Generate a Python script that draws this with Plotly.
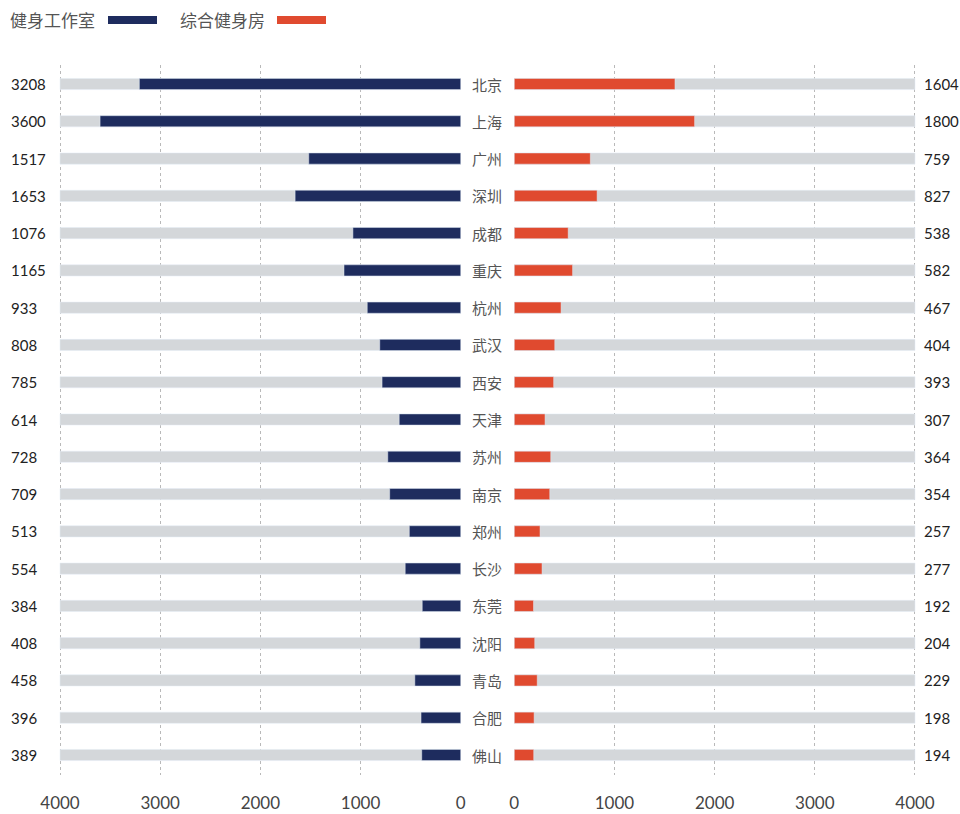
import plotly.graph_objects as go

cities = ["北京", "上海", "广州", "深圳", "成都", "重庆", "杭州", "武汉", "西安", "天津",
          "苏州", "南京", "郑州", "长沙", "东莞", "沈阳", "青岛", "合肥", "佛山"]
studio = [3208, 3600, 1517, 1653, 1076, 1165, 933, 808, 785, 614,
          728, 709, 513, 554, 384, 408, 458, 396, 389]
gym = [1604, 1800, 759, 827, 538, 582, 467, 404, 393, 307,
       364, 354, 257, 277, 192, 204, 229, 198, 194]
axis_max = 4000
tick_vals = [0, 1000, 2000, 3000, 4000]
tick_text = ["0", "1000", "2000", "3000", "4000"]
series_names = ["健身工作室", "综合健身房"]

NAVY = "#1e2c5e"
ORANGE = "#e04a2f"
GREY = "#d4d7da"
W, H = 960, 814
FONT_NUM = "Lato, Noto Sans, sans-serif"
FONT_CJK = "Noto Sans CJK SC, sans-serif"

fig = go.Figure()
bg = [axis_max] * len(cities)
bw = 0.3
fig.add_trace(go.Bar(y=cities, x=bg, orientation="h", marker_color=GREY, width=bw,
                     xaxis="x", yaxis="y", showlegend=False, hoverinfo="skip"))
fig.add_trace(go.Bar(y=cities, x=studio, orientation="h", marker_color=NAVY, width=bw,
                     xaxis="x", yaxis="y", name=series_names[0], showlegend=False))
fig.add_trace(go.Bar(y=cities, x=bg, orientation="h", marker_color=GREY, width=bw,
                     xaxis="x2", yaxis="y", showlegend=False, hoverinfo="skip"))
fig.add_trace(go.Bar(y=cities, x=gym, orientation="h", marker_color=ORANGE, width=bw,
                     xaxis="x2", yaxis="y", name=series_names[1], showlegend=False))

n = len(cities)
top_px, bot_px = 65, 775
first_px, last_px = 84, 755
step = (last_px - first_px) / (n - 1)
r_top = (top_px - first_px) / step
r_bot = (n - 1) + (bot_px - last_px) / step

pad = 3  # tiny range padding so edge gridlines are drawn
axis_common = dict(
    tickvals=tick_vals, ticktext=tick_text, showgrid=True, gridcolor="#b9b9b9",
    griddash="dot", gridwidth=1, zeroline=False, showline=False,
    ticks="outside", ticklen=13, tickcolor="rgba(0,0,0,0)",
    tickfont=dict(family=FONT_NUM, size=17, color="#444"), anchor="y",
    automargin=False,
)
fig.update_layout(
    width=W, height=H, margin=dict(l=0, r=0, t=0, b=0, autoexpand=False),
    paper_bgcolor="white", plot_bgcolor="white", barmode="overlay",
    xaxis=dict(domain=[57 / W, 461 / W], range=[axis_max + 10 * pad, -pad], **axis_common),
    xaxis2=dict(domain=[514 / W, 918 / W], range=[-pad, axis_max + 10 * pad], **axis_common),
    yaxis=dict(domain=[(H - bot_px) / H, (H - top_px) / H], type="category",
               categoryorder="array", categoryarray=cities,
               range=[r_bot, r_top], showticklabels=False, showgrid=False,
               zeroline=False, showline=False, automargin=False),
    showlegend=False,
)

for c, s, g in zip(cities, studio, gym):
    fig.add_annotation(x=9 / W, xref="paper", y=c, yref="y", text=str(s), showarrow=False,
                       xanchor="left", font=dict(family=FONT_NUM, size=15, color="#222"))
    fig.add_annotation(x=487 / W, xref="paper", y=c, yref="y", text=c, showarrow=False,
                       xanchor="center", font=dict(family=FONT_CJK, size=15, color="#555"))
    fig.add_annotation(x=922 / W, xref="paper", y=c, yref="y", text=str(g), showarrow=False,
                       xanchor="left", font=dict(family=FONT_NUM, size=15, color="#222"))

# legend
leg = [(series_names[0], 8, 108, NAVY), (series_names[1], 178, 277, ORANGE)]
for name, tx, lx, col in leg:
    fig.add_annotation(x=tx / W, xref="paper", y=1 - 20 / H, yref="paper", text=name,
                       showarrow=False, xanchor="left", yanchor="middle",
                       font=dict(family=FONT_CJK, size=17, color="#555"))
    fig.add_shape(type="rect", xref="paper", yref="paper", x0=lx / W, x1=(lx + 49) / W,
                  y0=1 - 24 / H, y1=1 - 16 / H, fillcolor=col, line=dict(width=0))

fig.write_html("out.html")
